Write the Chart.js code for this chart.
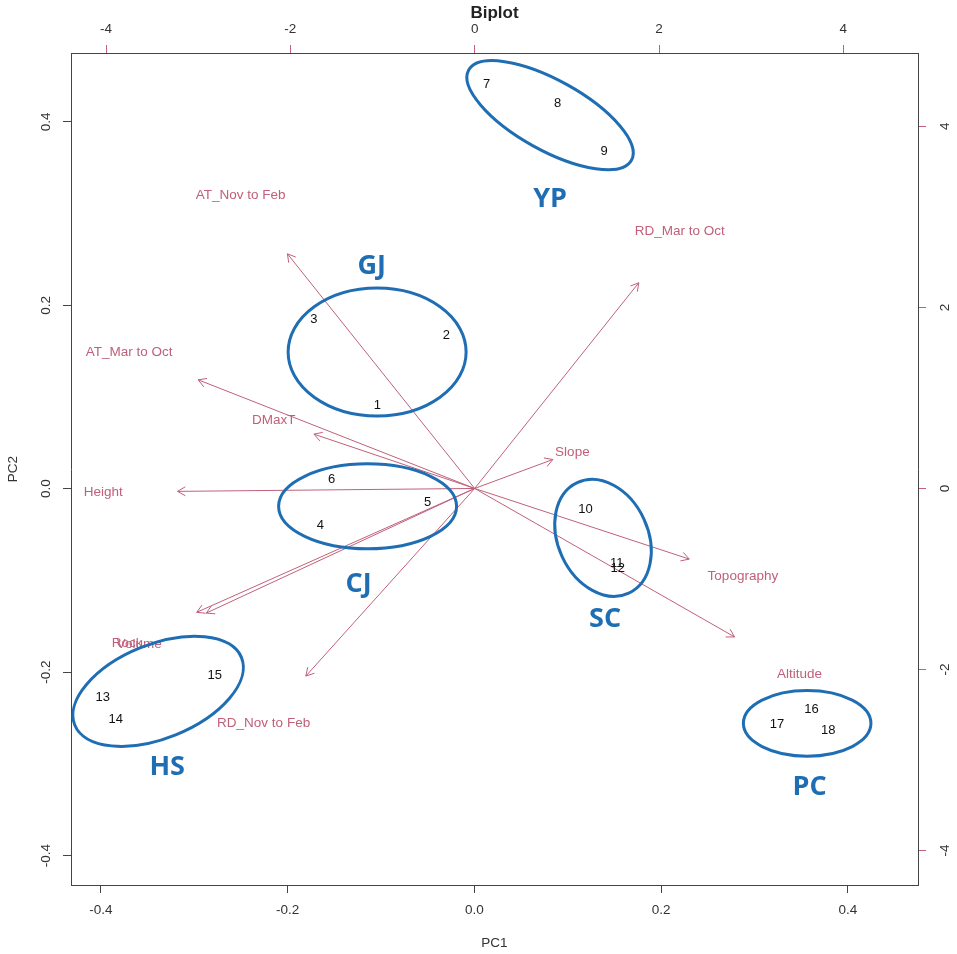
<!DOCTYPE html>
<html><head><meta charset="utf-8">
<script src="https://cdn.jsdelivr.net/npm/chart.js@4.4.1/dist/chart.umd.min.js"></script>
<style>html,body{margin:0;padding:0;background:#fff;overflow:hidden}canvas{display:block}</style>
</head><body>
<canvas id="c" width="957" height="954"></canvas>
<script>
// ---- data ----
const sampleLabels = ['1','2','3','4','5','6','7','8','9','10','11','12','13','14','15','16','17','18'];
const samplePC1 = [-0.104,-0.030,-0.172,-0.165,-0.050,-0.153,0.013,0.089,0.139,0.119,0.1525,0.1535,-0.398,-0.384,-0.278,0.361,0.324,0.379];
const samplePC2 = [0.091,0.167,0.185,-0.040,-0.015,0.010,0.441,0.420,0.368,-0.023,-0.081,-0.0865,-0.228,-0.252,-0.203,-0.241,-0.257,-0.264];

// variable loadings (top / right axis units); arrows drawn to 0.8 of these, labels at these
const varNames = ['AT_Nov to Feb','RD_Mar to Oct','AT_Mar to Oct','DMaxT','Height','Slope','Topography','Altitude','Rock','Volume','RD_Nov to Feb'];
const varLoad1 = [-2.54, 2.225, -3.75, -2.18, -4.03, 1.06, 2.91, 3.525, -3.77, -3.64, -2.29];
const varLoad2 = [ 3.24, 2.84,   1.50,  0.75, -0.04, 0.40, -0.975, -2.05, -1.71, -1.72, -2.59];

// group ellipses (PC1/PC2 units): centre, semi-axes, rotation (deg)
const groupNames = ['YP','GJ','CJ','SC','HS','PC'];
const groupCx = [0.0810, -0.1042, -0.1144, 0.1377, -0.3387, 0.3563];
const groupCy = [0.4072,  0.1490, -0.0192, -0.0535, -0.2208, -0.2558];
const groupRa = [0.0996,  0.0953,  0.0953, 0.0653, 0.0963, 0.0683];
const groupRb = [0.0375,  0.0685,  0.0455, 0.0482, 0.0503, 0.0351];
const groupRot = [29, 0, 0, 65, -22, 0];
const groupLabelX = [0.081, -0.110, -0.124, 0.140, -0.329, 0.359];
const groupLabelY = [0.316,  0.2426, -0.1045, -0.142, -0.304, -0.326];

const pcTicks = [-0.4, -0.2, 0, 0.2, 0.4];
const loadTicks = [-4, -2, 0, 2, 4];
const pcMin = -0.432, pcMax = 0.475;
const loadMin = -4.38, loadMax = 4.81;

// ---- styles ----
const ARROW = '#C0607A';
const BLUE = '#1F6EB4';
const BOX = '#444444';
const FONT = '"Liberation Sans", Arial, sans-serif';

const arrowDatasets = varNames.map((n, i) => ({
  type: 'scatter', label: n, xAxisID: 'x2', yAxisID: 'y2',
  data: [{x: 0, y: 0}, {x: 0.8 * varLoad1[i], y: 0.8 * varLoad2[i]}],
  showLine: true, borderColor: ARROW, borderWidth: 1, pointRadius: 0, order: 2
}));

const sampleDataset = {
  type: 'scatter', label: 'samples', xAxisID: 'x', yAxisID: 'y',
  data: samplePC1.map((v, i) => ({x: v, y: samplePC2[i]})),
  pointRadius: 0, showLine: false, order: 1
};

const fixTicks = arr => s => { s.ticks = arr.map(v => ({value: v})); };

const overlay = {
  id: 'overlay',
  afterDatasetsDraw(chart) {
    const ctx = chart.ctx;
    const sx = chart.scales.x, sy = chart.scales.y, s2x = chart.scales.x2, s2y = chart.scales.y2;
    ctx.save();
    // arrow heads
    ctx.strokeStyle = ARROW; ctx.lineWidth = 1;
    varNames.forEach((n, i) => {
      const x0 = s2x.getPixelForValue(0), y0 = s2y.getPixelForValue(0);
      const x1 = s2x.getPixelForValue(0.8 * varLoad1[i]), y1 = s2y.getPixelForValue(0.8 * varLoad2[i]);
      const ang = Math.atan2(y1 - y0, x1 - x0);
      const L = 9, a = Math.PI / 6;
      ctx.beginPath();
      ctx.moveTo(x1 - L * Math.cos(ang - a), y1 - L * Math.sin(ang - a));
      ctx.lineTo(x1, y1);
      ctx.lineTo(x1 - L * Math.cos(ang + a), y1 - L * Math.sin(ang + a));
      ctx.stroke();
    });
    // variable labels
    ctx.fillStyle = ARROW; ctx.font = '13.5px ' + FONT;
    ctx.textAlign = 'center'; ctx.textBaseline = 'middle';
    varNames.forEach((n, i) => {
      ctx.fillText(n, s2x.getPixelForValue(varLoad1[i]), s2y.getPixelForValue(varLoad2[i]));
    });
    // sample labels
    ctx.fillStyle = '#111'; ctx.font = '13px ' + FONT;
    const meta = chart.getDatasetMeta(chart.data.datasets.length - 1);
    meta.data.forEach((pt, i) => ctx.fillText(sampleLabels[i], pt.x, pt.y));
    // ellipses
    const ppu = Math.abs(sx.getPixelForValue(1) - sx.getPixelForValue(0));
    ctx.strokeStyle = BLUE; ctx.lineWidth = 3;
    groupNames.forEach((g, i) => {
      ctx.beginPath();
      ctx.ellipse(sx.getPixelForValue(groupCx[i]), sy.getPixelForValue(groupCy[i]),
        groupRa[i] * ppu, groupRb[i] * ppu, groupRot[i] * Math.PI / 180, 0, 2 * Math.PI);
      ctx.stroke();
    });
    // group labels
    ctx.fillStyle = BLUE; ctx.font = 'bold 27px "Open Sans", "Noto Sans", sans-serif';
    groupNames.forEach((g, i) => {
      ctx.fillText(g, sx.getPixelForValue(groupLabelX[i]), sy.getPixelForValue(groupLabelY[i]));
    });
    // rotated y tick labels (parallel to axis, as in R)
    ctx.fillStyle = '#333'; ctx.font = '13.5px ' + FONT;
    [[sy, pcTicks, v => v.toFixed(1), sy.right - 25], [s2y, loadTicks, v => String(v), s2y.left + 27]].forEach(([sc, tk, fmt, xc]) => {
      tk.forEach(v => {
        ctx.save();
        ctx.translate(xc, sc.getPixelForValue(v));
        ctx.rotate(-Math.PI / 2);
        ctx.fillText(fmt(v), 0, 0);
        ctx.restore();
      });
    });
    ctx.restore();
  }
};

new Chart(document.getElementById('c'), {
  type: 'scatter',
  data: { datasets: [...arrowDatasets, sampleDataset] },
  options: {
    responsive: false, animation: false, devicePixelRatio: 1,
    layout: { padding: 0 },
    plugins: { legend: { display: false }, tooltip: { enabled: false } },
    scales: {
      x: {
        type: 'linear', position: 'bottom', min: pcMin, max: pcMax,
        afterBuildTicks: fixTicks(pcTicks), afterFit: s => { s.height = 69; },
        ticks: { font: { size: 13.5, family: FONT }, color: '#333', padding: 9, maxRotation: 0,
                 callback: v => v.toFixed(1) },
        grid: { drawOnChartArea: false, tickLength: 8, color: BOX, tickColor: BOX },
        border: { color: BOX, width: 1 },
        title: { display: true, text: 'PC1', color: '#333', font: { size: 13.5, family: FONT }, padding: { top: 0, bottom: 3 } }
      },
      x2: {
        type: 'linear', position: 'top', min: loadMin, max: loadMax,
        afterBuildTicks: fixTicks(loadTicks), afterFit: s => { s.height = 53; },
        ticks: { font: { size: 13.5, family: FONT }, color: '#333', padding: 8, maxRotation: 0 },
        grid: { drawOnChartArea: false, tickLength: 8, color: ARROW, tickColor: ARROW },
        border: { color: BOX, width: 1 },
        title: { display: true, text: 'Biplot', color: '#222', font: { size: 17, weight: 'bold', family: FONT }, padding: { top: 3, bottom: 0 } }
      },
      y: {
        type: 'linear', position: 'left', min: pcMin, max: pcMax,
        afterBuildTicks: fixTicks(pcTicks), afterFit: s => { s.width = 71; },
        ticks: { display: false },
        grid: { drawOnChartArea: false, tickLength: 8, color: BOX, tickColor: BOX },
        border: { color: BOX, width: 1 },
        title: { display: true, text: 'PC2', color: '#333', font: { size: 13.5, family: FONT }, padding: { top: 5, bottom: 0 } }
      },
      y2: {
        type: 'linear', position: 'right', min: loadMin, max: loadMax,
        afterBuildTicks: fixTicks(loadTicks), afterFit: s => { s.width = 39; },
        ticks: { display: false },
        grid: { drawOnChartArea: false, tickLength: 8, color: ARROW, tickColor: ARROW },
        border: { color: BOX, width: 1 }
      }
    }
  },
  plugins: [overlay]
});
</script>
</body></html>
